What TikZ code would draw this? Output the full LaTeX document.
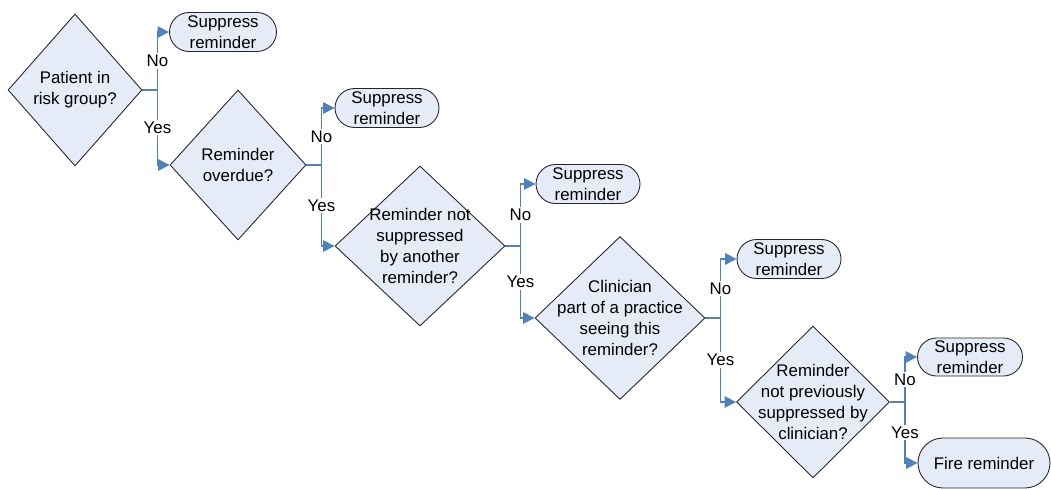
\documentclass[tikz,border=0pt]{standalone}
\usepackage{fontspec}
\setmainfont{Liberation Sans}
\usetikzlibrary{arrows.meta}
\usetikzlibrary{shapes.geometric}
\usetikzlibrary{shapes.misc}
\definecolor{flowcolor}{HTML}{4F81BD}
\definecolor{boxfill}{HTML}{E6ECF7}
\tikzset{
  decision/.style={diamond, draw=black!85, fill=boxfill, line width=0.5pt, inner sep=-12pt, align=center},
  outcome/.style={rounded rectangle, draw=black!85, fill=boxfill, line width=0.5pt, inner sep=0pt, align=center},
  flow/.style={draw=flowcolor, line width=0.8pt, -{Triangle[length=6.5pt,width=6.5pt]}},
  answer/.style={fill=white, inner sep=1pt}
}
\begin{document}
\begin{tikzpicture}[x=0.02cm,y=-0.02cm,font=\fontsize{9.6}{11.9}\selectfont]
\useasboundingbox (0,0) rectangle (1051,489);
% decisions
\node[decision, minimum width=2.68cm, minimum height=3.04cm] (risk) at (75,90) {Patient in\\risk group?};
\node[decision, minimum width=2.72cm, minimum height=3.0cm] (overdue) at (238,165) {Reminder\\overdue?};
\node[decision, minimum width=3.4cm, minimum height=3.2cm] (another) at (420,246) {Reminder not\\suppressed\\by another\\reminder?};
\node[decision, minimum width=3.4cm, minimum height=3.26cm] (practice) at (620,318) {Clinician\\part of a practice\\seeing this\\reminder?};
\node[decision, minimum width=3.06cm, minimum height=3.04cm] (previous) at (813,402) {Reminder\\not previously\\suppressed by\\clinician?};
% outcomes
\node[outcome, minimum width=2.14cm, minimum height=0.78cm] (sup1) at (223,32) {Suppress\\reminder};
\node[outcome, minimum width=2.08cm, minimum height=0.78cm] (sup2) at (387,108) {Suppress\\reminder};
\node[outcome, minimum width=2.08cm, minimum height=0.78cm] (sup3) at (588,184) {Suppress\\reminder};
\node[outcome, minimum width=2.08cm, minimum height=0.78cm] (sup4) at (789,259) {Suppress\\reminder};
\node[outcome, minimum width=2.1cm, minimum height=0.76cm] (sup5) at (970,357) {Suppress\\reminder};
\node[outcome, minimum width=2.64cm, minimum height=1.0cm] (fire) at (984,463) {Fire reminder};
% connectors
\draw[flow] (risk.east) -- ++(15,0) coordinate (j1) |- node[answer,pos=0.25] {No} (sup1.west);
\draw[flow] (j1) |- node[answer,pos=0.25] {Yes} (overdue.west);
\draw[flow] (overdue.east) -- ++(15,0) coordinate (j2) |- node[answer,pos=0.25] {No} (sup2.west);
\draw[flow] (j2) |- node[answer,pos=0.25] {Yes} (another.west);
\draw[flow] (another.east) -- ++(15,0) coordinate (j3) |- node[answer,pos=0.25] {No} (sup3.west);
\draw[flow] (j3) |- node[answer,pos=0.25] {Yes} (practice.west);
\draw[flow] (practice.east) -- ++(15,0) coordinate (j4) |- node[answer,pos=0.25] {No} (sup4.west);
\draw[flow] (j4) |- node[answer,pos=0.25] {Yes} (previous.west);
\draw[flow] (previous.east) -- ++(15,0) coordinate (j5) |- node[answer,pos=0.25] {No} (sup5.west);
\draw[flow] (j5) |- node[answer,pos=0.25] {Yes} (fire.west);
\end{tikzpicture}
\end{document}
